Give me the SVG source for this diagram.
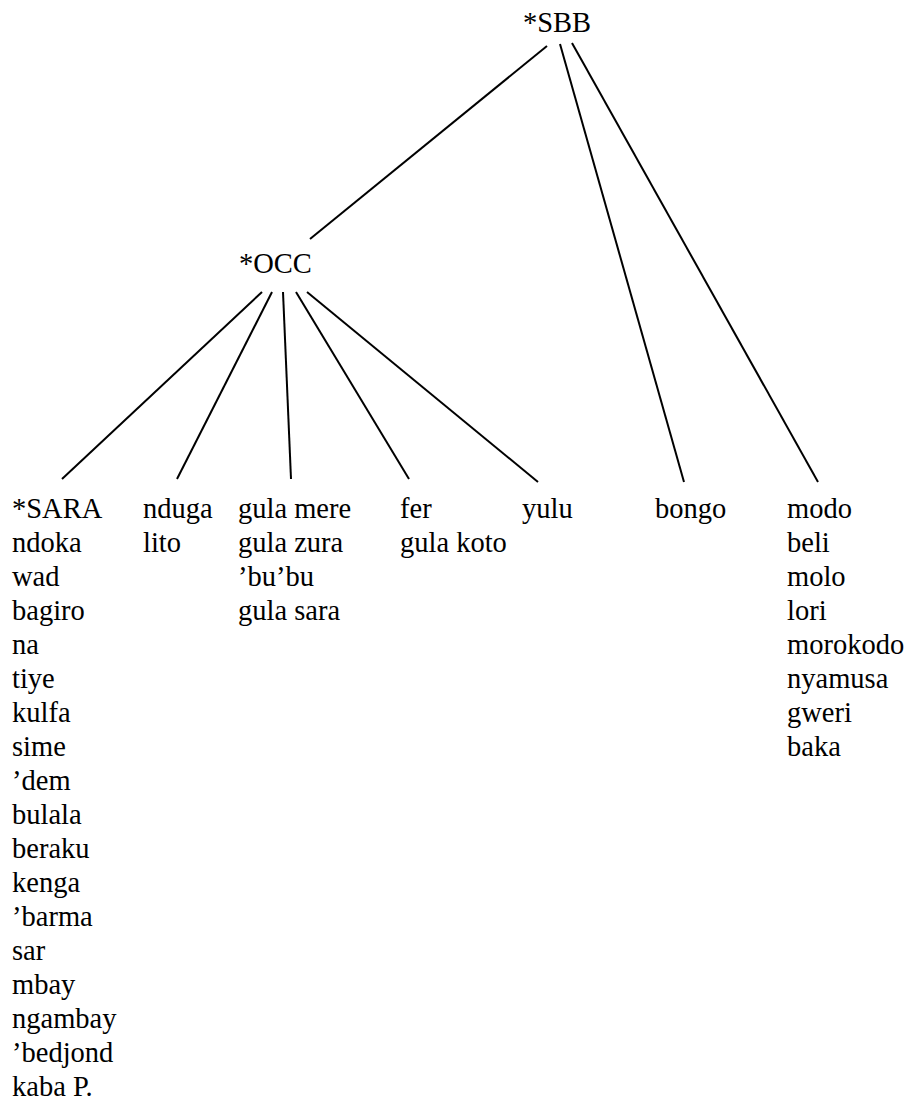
<svg xmlns="http://www.w3.org/2000/svg" width="912" height="1115" viewBox="0 0 912 1115" font-family="'Liberation Serif', Tinos, 'Times New Roman', Times, 'Noto Serif', 'DejaVu Serif', serif">
<style>
text{font-family:'Liberation Serif',Tinos,'Times New Roman',Times,'Noto Serif','DejaVu Serif',serif;font-size:28.5px;fill:#000}
.e{stroke:#000;stroke-width:2;fill:none;stroke-linecap:butt}
</style>
<rect width="912" height="1115" fill="#fff"/>
<g id="connectors">
<line class="e" x1="547" y1="46" x2="310" y2="239"/>
<line class="e" x1="560" y1="44" x2="684" y2="482"/>
<line class="e" x1="572" y1="43" x2="818" y2="482"/>
<line class="e" x1="262" y1="292" x2="62" y2="479"/>
<line class="e" x1="272" y1="292" x2="177" y2="479"/>
<line class="e" x1="283" y1="292" x2="291" y2="479"/>
<line class="e" x1="296" y1="292" x2="409" y2="479"/>
<line class="e" x1="307" y1="292" x2="538" y2="482"/>
</g>
<g id="sbb"><text x="523" y="32">*SBB</text></g>
<g id="occ"><text x="239" y="273">*OCC</text></g>
<g id="sara">
<text x="12" y="518">*SARA</text>
<text x="12" y="552">ndoka</text>
<text x="12" y="586">wad</text>
<text x="12" y="620">bagiro</text>
<text x="12" y="654">na</text>
<text x="12" y="688">tiye</text>
<text x="12" y="722">kulfa</text>
<text x="12" y="756">sime</text>
<text x="12" y="790">’dem</text>
<text x="12" y="824">bulala</text>
<text x="12" y="858">beraku</text>
<text x="12" y="892">kenga</text>
<text x="12" y="926">’barma</text>
<text x="12" y="960">sar</text>
<text x="12" y="994">mbay</text>
<text x="12" y="1028">ngambay</text>
<text x="12" y="1062">’bedjond</text>
<text x="12" y="1096">kaba P.</text>
</g>
<g id="nduga">
<text x="143" y="518">nduga</text>
<text x="143" y="552">lito</text>
</g>
<g id="gula">
<text x="238" y="518">gula mere</text>
<text x="238" y="552">gula zura</text>
<text x="238" y="586">’bu’bu</text>
<text x="238" y="620">gula sara</text>
</g>
<g id="fer">
<text x="400" y="518">fer</text>
<text x="400" y="552">gula koto</text>
</g>
<g id="yulu"><text x="522" y="518">yulu</text></g>
<g id="bongo"><text x="655" y="518">bongo</text></g>
<g id="modo">
<text x="787" y="518">modo</text>
<text x="787" y="552">beli</text>
<text x="787" y="586">molo</text>
<text x="787" y="620">lori</text>
<text x="787" y="654">morokodo</text>
<text x="787" y="688">nyamusa</text>
<text x="787" y="722">gweri</text>
<text x="787" y="756">baka</text>
</g>
</svg>
